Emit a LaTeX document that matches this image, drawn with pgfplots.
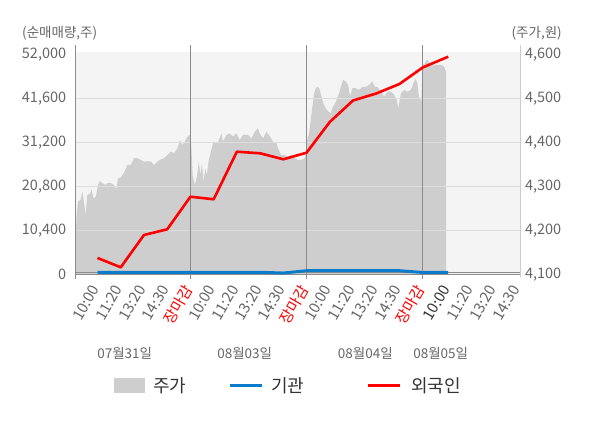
\documentclass[border=0pt]{standalone}
\usepackage{pgfplots}
\pgfplotsset{compat=1.18}
\usepackage{fontspec}
\setmainfont{Noto Sans CJK KR}
\definecolor{bgc}{HTML}{F4F4F4}
\definecolor{areac}{HTML}{CECECE}
\definecolor{gridc}{HTML}{DDDDDD}
\definecolor{sepc}{HTML}{8C8C8C}
\definecolor{labc}{HTML}{666666}
\definecolor{legc}{HTML}{333333}
\definecolor{bluec}{HTML}{0A7CCA}
\definecolor{rightc}{HTML}{CCCCCC}
\newcommand{\fs}[1]{\fontsize{#1bp}{#1bp}\selectfont}

\pgfplotstableread{
x y
0.06 4185
0.10 4235
0.16 4265
0.27 4269
0.35 4288
0.42 4261
0.49 4235
0.56 4280
0.68 4284
0.75 4292
0.82 4273
0.92 4276
1.02 4303
1.11 4312
1.21 4307
1.35 4303
1.42 4307
1.59 4307
1.71 4303
1.81 4293
1.88 4318
2.00 4320
2.14 4331
2.28 4348
2.43 4348
2.57 4364
2.71 4364
2.86 4360
3.00 4356
3.15 4357
3.32 4356
3.43 4348
3.58 4356
3.72 4361
3.86 4364
4.01 4371
4.15 4379
4.29 4375
4.44 4386
4.55 4405
4.65 4394
4.75 4401
4.87 4413
4.98 4417
5.03 4398
5.10 4322
5.19 4303
5.28 4322
5.36 4356
5.43 4326
5.50 4352
5.57 4310
5.64 4341
5.71 4326
5.79 4360
5.90 4383
5.99 4401
6.19 4401
6.33 4420
6.40 4401
6.55 4417
6.69 4420
6.83 4413
6.98 4420
7.12 4405
7.27 4417
7.48 4417
7.62 4409
7.77 4424
7.91 4432
7.98 4420
8.13 4409
8.27 4424
8.42 4413
8.56 4401
8.70 4398
8.77 4386
8.91 4371
9.06 4371
9.20 4367
9.35 4371
9.49 4364
9.63 4360
9.78 4360
9.92 4364
9.98 4380
10.03 4405
10.11 4420
10.18 4451
10.25 4481
10.32 4511
10.40 4523
10.47 4526
10.54 4523
10.61 4511
10.68 4496
10.75 4485
10.83 4477
10.93 4470
11.04 4466
11.11 4477
11.26 4492
11.40 4511
11.50 4530
11.58 4542
11.69 4538
11.79 4530
11.87 4504
11.97 4523
12.12 4523
12.26 4519
12.40 4526
12.55 4526
12.69 4530
12.83 4538
12.94 4526
13.05 4526
13.20 4515
13.34 4504
13.48 4515
13.63 4515
13.77 4508
13.88 4496
13.95 4477
14.06 4511
14.20 4519
14.34 4515
14.49 4519
14.60 4534
14.70 4545
14.77 4534
14.84 4504
14.94 4492
15.00 4580
15.06 4576
15.18 4588
15.28 4580
15.37 4572
15.49 4576
15.63 4576
15.78 4576
15.92 4572
16.01 4560
}\pricetable

\pgfplotstableread{
x y
1 3853
2 1655
3 9289
4 10636
5 18342
6 17727
7 28978
8 28600
9 27182
10 28740
11 36000
12 41080
13 42735
14 44980
15 48880
16.1 51430
}\foreigntable

\pgfplotstableread{
x y
1 470
2 470
3 470
4 470
5 470
6 470
7 470
8 470
9 300
10 850
11 850
12 850
13 850
14 850
15 430
16.1 430
}\insttable

\begin{document}
\begin{tikzpicture}
\useasboundingbox (0bp,0bp) rectangle (600bp,428bp);
\pgfplotsset{
  base/.style={at={(75.7bp,153.7bp)}, anchor=south west, scale only axis,
    width=444.3bp, height=222.6bp, xmin=0.06, xmax=19.19,
    /pgf/number format/assume math mode=true,
    /pgf/number format/1000 sep={,},
    scaled y ticks=false, major tick length=0pt,
    tick label style={font=\fs{14.5}, text=labc}},
}
\begin{axis}[base, ymin=4100, ymax=4605.9,
  axis y line*=right, axis x line=none, axis line style={draw=none},
  ytick={4100,4200,4300,4400,4500,4600},
  yticklabel style={xshift=1.5bp},
  axis background/.style={fill=bgc}]
\addplot[fill=areac, draw=none] table[x=x,y=y] {\pricetable} \closedcycle;
\end{axis}
\begin{axis}[base, ymin=0, ymax=52615,
  axis y line*=left, axis x line*=bottom, axis line style={draw=none},
  ytick={0,10400,20800,31200,41600,52000},
  yticklabel style={xshift=-6bp},
  xtick={1,2,3,4,5,6,7,8,9,10,11,12,13,14,15,16.1,17.1,18.1,19.1},
  xticklabels={10:00,11:20,13:20,14:30,\textcolor{red}{장마감},10:00,11:20,13:20,14:30,\textcolor{red}{장마감},10:00,11:20,13:20,14:30,\textcolor{red}{장마감},\textcolor{legc}{10:00},11:20,13:20,14:30},
  xticklabel style={font=\fs{15}, inner sep=1bp, xshift=-1.7bp, yshift=-11.5bp, rotate=60, anchor=east},
  clip mode=individual]
\draw[gridc, line width=0.9bp] (axis cs:0.06,10400) -- (axis cs:19.19,10400);
\draw[gridc, line width=0.9bp] (axis cs:0.06,20800) -- (axis cs:19.19,20800);
\draw[gridc, line width=0.9bp] (axis cs:0.06,31200) -- (axis cs:19.19,31200);
\draw[gridc, line width=0.9bp] (axis cs:0.06,41600) -- (axis cs:19.19,41600);
\draw[rightc, line width=1bp] ([yshift=-3bp]rel axis cs:1,0) -- ([yshift=6.7bp]rel axis cs:1,1);
\draw[sepc, line width=0.9bp] (rel axis cs:0,0) -- (rel axis cs:1,0);
\draw[sepc, line width=0.7bp] ([yshift=2bp]rel axis cs:0,0) -- ([yshift=2bp]rel axis cs:1,0);
\draw[sepc, line width=1bp] ([yshift=-4.7bp]rel axis cs:0,0) -- ([yshift=6.7bp]rel axis cs:0,1);
\draw[sepc, line width=1bp] ([yshift=-4.7bp]axis cs:5,0) -- ([yshift=6.7bp]axis cs:5,52615);
\draw[sepc, line width=1bp] ([yshift=-4.7bp]axis cs:10,0) -- ([yshift=6.7bp]axis cs:10,52615);
\draw[sepc, line width=1bp] ([yshift=-4.7bp]axis cs:15,0) -- ([yshift=6.7bp]axis cs:15,52615);
\addplot[bluec, line width=3bp, mark=none] table[x=x,y=y] {\insttable};
\addplot[red, line width=2.6bp, mark=none, line join=round] table[x=x,y=y] {\foreigntable};
\end{axis}
% axis titles
\node[anchor=west, inner sep=0pt, text=labc, font=\fs{13.5}] at (22bp,394.7bp) {(순매매량,주)};
\node[anchor=east, inner sep=0pt, text=labc, font=\fs{13.5}] at (562bp,394.7bp) {(주가,원)};
% date labels
\node[inner sep=0pt, text=labc, font=\fs{13.5}] at (124.7bp,74.7bp) {07월31일};
\node[inner sep=0pt, text=labc, font=\fs{13.5}] at (244.7bp,74.7bp) {08월03일};
\node[inner sep=0pt, text=labc, font=\fs{13.5}] at (365.3bp,74.7bp) {08월04일};
\node[inner sep=0pt, text=labc, font=\fs{13.5}] at (440.7bp,74.7bp) {08월05일};
% legend
\fill[areac] (114bp,35.3bp) rectangle (145bp,49.7bp);
\node[anchor=west, inner sep=0pt, text=legc, font=\fs{18}] at (153bp,42bp) {주가};
\draw[bluec, line width=3bp] (230bp,42.3bp) -- (261.7bp,42.3bp);
\node[anchor=west, inner sep=0pt, text=legc, font=\fs{18}] at (271bp,42bp) {기관};
\draw[red, line width=3bp] (368.3bp,42.3bp) -- (400.3bp,42.3bp);
\node[anchor=west, inner sep=0pt, text=legc, font=\fs{18}] at (411bp,42bp) {외국인};
\end{tikzpicture}
\end{document}
